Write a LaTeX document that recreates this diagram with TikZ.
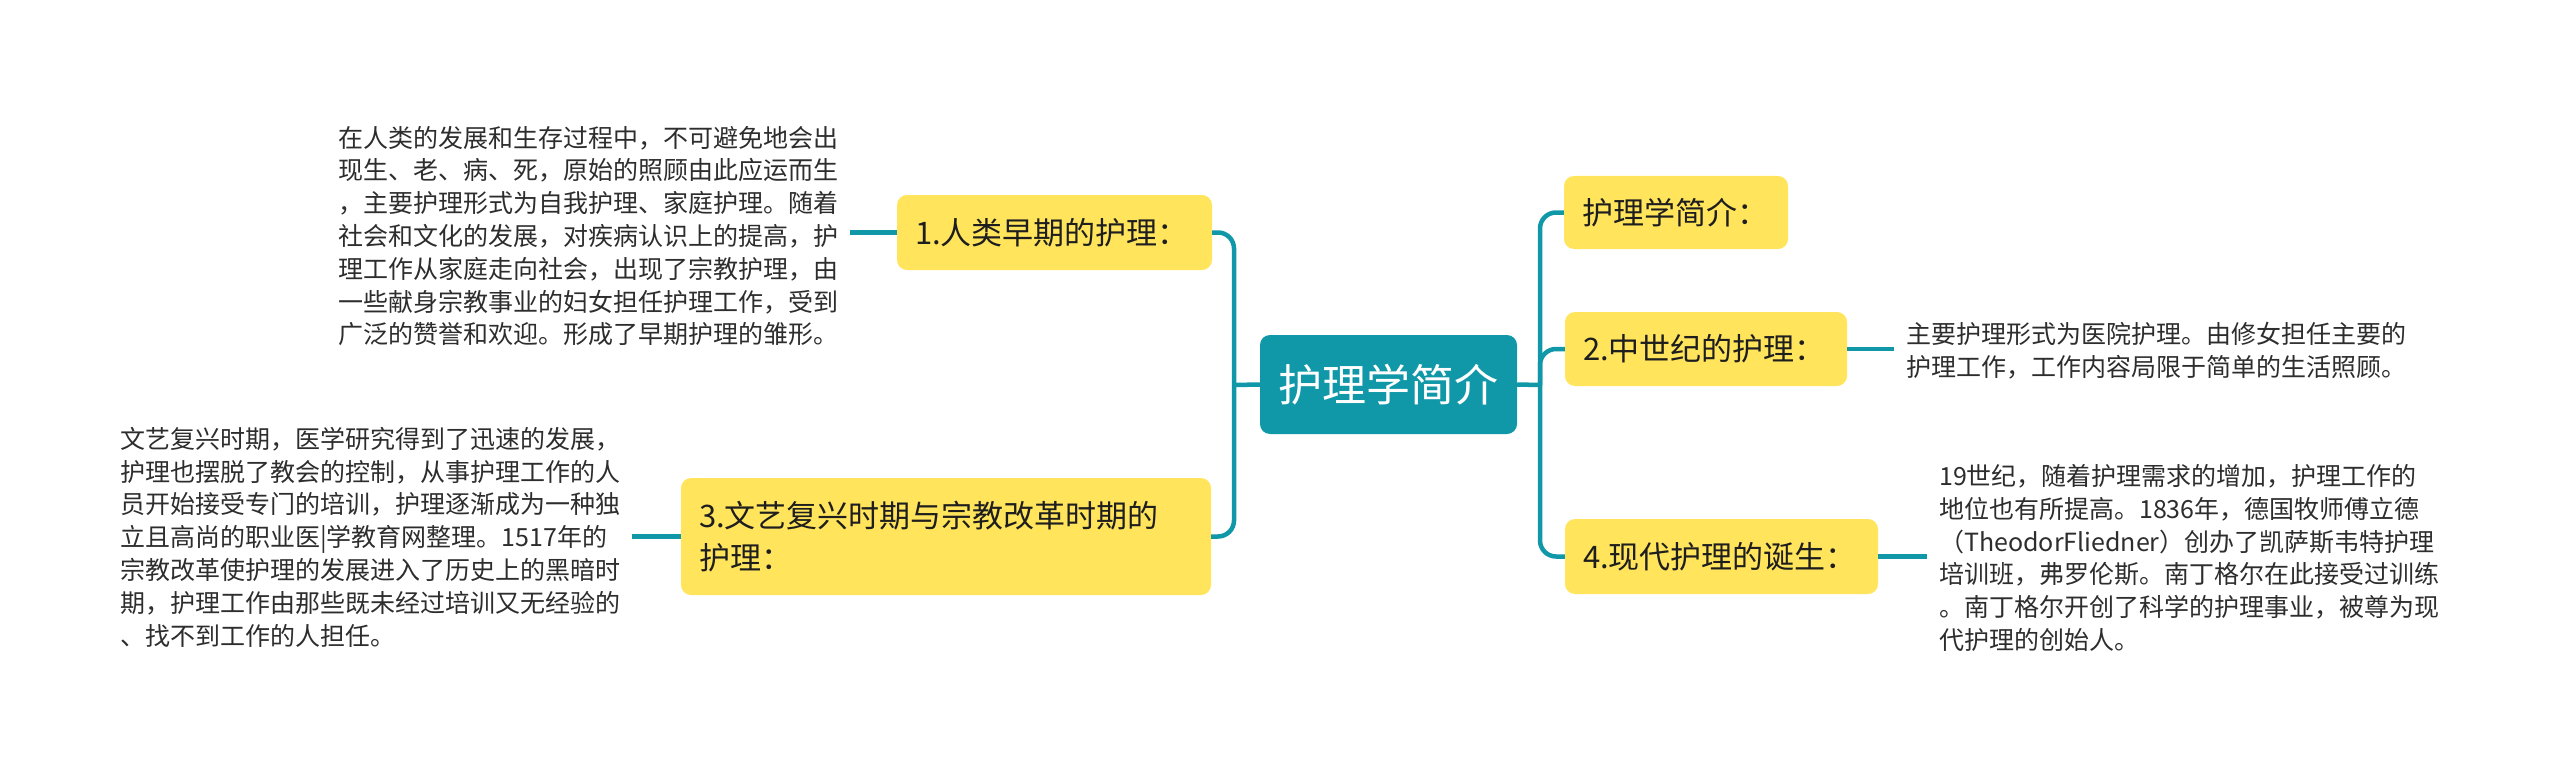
\documentclass[tikz,border=0pt]{standalone}
\usepackage{fontspec}
\setmainfont{Noto Sans CJK SC}
\definecolor{teal1}{RGB}{17,152,168}
\definecolor{yellow1}{RGB}{255,228,92}
\definecolor{textdark}{RGB}{30,30,30}
\definecolor{textgray}{RGB}{45,45,45}
\tikzset{
  conn/.style={draw=teal1, line width=4.5pt, rounded corners=16pt},
  topic/.style={fill=yellow1, rounded corners=10pt, inner xsep=18pt, inner ysep=0pt,
    align=left, text=textdark, font=\fontsize{31}{42}\selectfont, anchor=center},
  rootbox/.style={fill=teal1, rounded corners=10pt, text=white, inner sep=0pt,
    minimum width=257pt, minimum height=99pt, font=\fontsize{44}{50}\selectfont},
  desc/.style={inner xsep=12pt, inner ysep=0pt, text width=500pt, align=left,
    text=textgray, font=\fontsize{25}{32.8}\selectfont, anchor=west}
}
\begin{document}
\begin{tikzpicture}[x=1pt,y=-1pt]
\path[use as bounding box] (0,0) rectangle (2560,773);

\node[rootbox] (c) at (1388.5,384.5) {护理学简介};

\coordinate (jl) at (1234,385);
\coordinate (jr) at (1540,385);

\node[topic, text width=279pt, minimum height=75pt] (n1) at (1054.5,232.5) {1.人类早期的护理：};
\node[topic, text width=494pt, minimum height=117pt] (n3) at (946,536.5) {3.文艺复兴时期与宗教改革时期的\\护理：};
\node[topic, text width=188pt, minimum height=73pt] (r0) at (1676,212.5) {护理学简介：};
\node[topic, text width=246pt, minimum height=74pt] (r2) at (1706,349) {2.中世纪的护理：};
\node[topic, text width=277pt, minimum height=75pt] (r4) at (1721.5,556.5) {4.现代护理的诞生：};

\node[desc] (t1) at (326,236) {在人类的发展和生存过程中，不可避免地会出\\现生、老、病、死，原始的照顾由此应运而生\\，主要护理形式为自我护理、家庭护理。随着\\社会和文化的发展，对疾病认识上的提高，护\\理工作从家庭走向社会，出现了宗教护理，由\\一些献身宗教事业的妇女担任护理工作，受到\\广泛的赞誉和欢迎。形成了早期护理的雏形。};

\node[desc] (t3) at (108,537) {文艺复兴时期，医学研究得到了迅速的发展，\\护理也摆脱了教会的控制，从事护理工作的人\\员开始接受专门的培训，护理逐渐成为一种独\\立且高尚的职业医|学教育网整理。1517年的\\宗教改革使护理的发展进入了历史上的黑暗时\\期，护理工作由那些既未经过培训又无经验的\\、找不到工作的人担任。};

\node[desc] (t2) at (1894,351) {主要护理形式为医院护理。由修女担任主要的\\护理工作，工作内容局限于简单的生活照顾。};

\node[desc] (t4) at (1927,558) {19世纪，随着护理需求的增加，护理工作的\\地位也有所提高。1836年，德国牧师傅立德\\（TheodorFliedner）创办了凯萨斯韦特护理\\培训班，弗罗伦斯。南丁格尔在此接受过训练\\。南丁格尔开创了科学的护理事业，被尊为现\\代护理的创始人。};

% connectors
\draw[conn] (c.west) -- (jl);
\draw[conn] (c.east) -- (jr);
\draw[conn] (jl) |- (n1.east);
\draw[conn] (jl) |- (n3.east);
\draw[conn] (jr) |- (r0.west);
\draw[conn] (jr) |- (r2.west);
\draw[conn] (jr) |- (r4.west);
\draw[conn] (n1.west) -- (n1.west -| t1.east);
\draw[conn] (n3.west) -- (n3.west -| t3.east);
\draw[conn] (r2.east) -- (r2.east -| t2.west);
\draw[conn] (r4.east) -- (r4.east -| t4.west);
\end{tikzpicture}
\end{document}
